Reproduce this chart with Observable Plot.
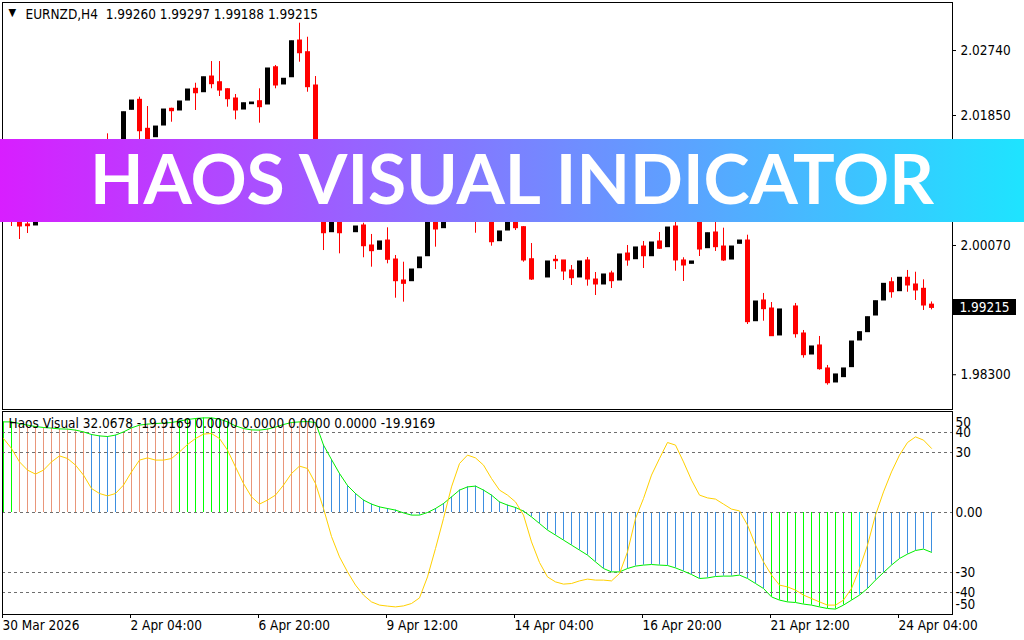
<!DOCTYPE html>
<html><head><meta charset="utf-8">
<script src="https://cdn.jsdelivr.net/npm/d3@7"></script>
<script src="https://cdn.jsdelivr.net/npm/@observablehq/plot@0.6"></script>
<style>
html,body{margin:0;padding:0;background:#fff;}
#wrap{position:relative;width:1024px;height:640px;overflow:hidden;}
#wrap > svg, #wrap > div{position:absolute;left:0;}
</style></head><body><div id="wrap"></div><script>
// ---------- data ----------
const symbol = "EURNZD,H4";
const quote = [1.99260, 1.99297, 1.99188, 1.99215];
const indicatorName = "Haos Visual";
const indicatorValues = [32.0678, -19.9169, 0.0000, 0.0000, 0.0000, 0.0000, -19.9169];
const bannerTitle = "HAOS VISUAL INDICATOR";

const opens = [2.00618,2.00522,2.00494,2.00358,2.00344,2.00494,2.00686,2.00850,2.00755,2.00960,
2.01124,2.01015,2.00919,2.01234,2.01206,2.01371,2.01928,2.02065,2.01668,2.01553,
2.01713,2.01942,2.01919,2.02055,2.02216,2.02169,2.02384,2.02306,2.02210,2.02083,
2.01932,2.02005,2.02046,2.02001,2.02511,2.02275,2.02374,2.02877,2.02717,2.02261,
2.00686,2.00252,2.00522,null,2.00252,2.00344,2.00070,2.00011,2.00138,1.99878,
1.99591,1.99581,1.99759,1.99923,2.00618,2.00307,2.00618,2.00823,2.00933,2.00755,
2.00549,2.00741,2.00129,2.00275,2.00481,2.00321,1.99882,null,1.99632,1.99874,
1.99865,1.99728,1.99632,1.99865,1.99604,1.99536,1.99687,1.99591,1.99960,1.99882,
2.00056,1.99923,2.00125,2.00047,2.00330,1.99865,1.99819,2.00481,2.00033,2.00248,
2.00056,1.99878,2.00093,2.00138,1.99033,1.99317,1.99207,1.98838,null,1.99235,
1.98865,1.98577,1.98701,1.98386,1.98194,1.98267,1.98404,1.98769,1.98883,1.99111,
1.99317,1.99567,1.99444,1.99628,1.99536,1.99477,1.99260];
const highs = [2.00686,2.00577,2.00549,2.00494,2.00522,2.00741,2.00905,2.00892,2.01015,2.01165,
2.01206,2.01097,2.01234,2.01599,2.01494,2.01895,2.02055,2.02101,2.01973,2.01699,
2.01932,2.01950,2.02042,2.02206,2.02292,2.02374,2.02589,2.02589,2.02216,2.02138,
2.02018,2.02028,2.02216,2.02494,2.02535,2.02353,2.02867,2.03114,2.02922,2.02384,
2.00755,2.00618,2.00577,null,2.00330,2.00375,2.00221,2.00125,2.00312,1.99933,
1.99841,1.99741,1.99906,2.00755,2.00686,2.00686,2.00892,2.01028,2.00987,2.00823,
2.00796,2.00796,2.00262,2.00549,2.00522,2.00330,2.00097,null,1.99851,1.99933,
1.99865,1.99796,1.99851,1.99906,1.99700,1.99673,1.99718,1.99947,2.00070,2.00043,
2.00125,2.00111,2.00248,2.00316,2.00481,1.99902,1.99851,2.00549,2.00238,2.00481,
2.00307,2.00056,2.00138,2.00211,1.99303,1.99413,1.99289,1.99194,null,1.99276,
1.98906,1.98687,1.98824,1.98427,1.98304,1.98386,1.98755,1.98883,1.99088,1.99307,
1.99545,1.99628,1.99628,1.99728,1.99704,1.99600,1.99297];
const lows = [2.00440,2.00330,2.00152,2.00234,2.00344,2.00467,2.00645,2.00700,2.00727,2.00905,
2.00960,2.00823,2.00878,2.01124,2.01152,2.01343,2.01928,2.01508,2.01371,2.01553,
2.01713,2.01758,2.01919,2.02055,2.01919,2.02169,2.02216,2.02110,2.01964,2.01791,
2.01932,2.02005,2.01745,2.02001,2.02216,2.02275,2.02374,2.02580,2.02169,2.00618,
2.00001,2.00252,1.99956,null,2.00252,1.99902,1.99773,2.00011,1.99819,1.99348,
1.99294,1.99581,1.99759,1.99923,2.00047,2.00307,2.00549,2.00755,2.00686,2.00238,
2.00481,2.00060,2.00129,2.00275,2.00275,1.99841,1.99591,null,1.99632,1.99741,
1.99591,1.99522,1.99632,1.99513,1.99385,1.99536,1.99481,1.99591,1.99786,1.99882,
1.99755,1.99923,2.00015,2.00047,1.99718,1.99577,1.99819,1.99919,2.00033,1.99988,
1.99851,1.99878,2.00093,1.98988,1.99033,1.99033,1.98828,1.98838,null,1.98801,
1.98527,1.98577,1.98362,1.98157,1.98194,1.98267,1.98404,1.98769,1.98883,1.99111,
1.99317,1.99348,1.99444,1.99430,1.99317,1.99180,1.99188];
const closes = [2.00522,2.00440,2.00330,2.00334,2.00494,2.00686,2.00850,2.00755,2.00960,2.01124,
2.01015,2.00919,2.01165,2.01206,2.01439,2.01895,2.02055,2.01635,2.01439,2.01699,
2.01932,2.01909,2.02042,2.02206,2.02155,2.02374,2.02279,2.02192,2.02073,2.01919,
2.02018,2.02028,2.01964,2.02494,2.02261,2.02353,2.02867,2.02703,2.02238,2.00686,
2.00238,2.00549,2.00238,null,2.00330,2.00060,1.99992,2.00125,1.99874,1.99581,
1.99545,1.99741,1.99906,2.00686,2.00289,2.00618,2.00823,2.00960,2.00755,2.00549,
2.00755,2.00115,2.00262,2.00481,2.00307,1.99865,1.99604,null,1.99851,1.99855,
1.99714,1.99622,1.99851,1.99604,1.99536,1.99673,1.99581,1.99947,1.99865,2.00043,
1.99923,2.00111,2.00025,2.00316,1.99865,1.99796,1.99851,2.00015,2.00238,2.00047,
1.99865,2.00056,2.00138,1.99020,1.99303,1.99198,1.98828,1.99194,null,1.98855,
1.98568,1.98687,1.98376,1.98184,1.98304,1.98386,1.98755,1.98883,1.99088,1.99307,
1.99545,1.99430,1.99628,1.99522,1.99454,1.99248,1.99215];

// indicator: main histogram / line, signal line, histogram state per bar
const haosMain = [45.3,45.3,44.5,43.7,43,42.5,42.2,41.8,41.7,41.2,
40.3,39,38.3,38,38.7,40.3,42.3,43.7,44.2,44.5,
44.7,45,45.7,46.5,47,47.3,47.3,46.7,45.3,43.3,
42,41.3,41.2,41.7,42.7,44,45,45.3,45.5,45,
33.7,26.5,19.5,13.5,9.5,6.2,4.2,2.8,2,1.2,
-0.2,-1.3,-1.3,0,2,4.5,7.8,11.2,12.8,13.2,
11.2,8.7,5.3,3.7,2.5,0.7,-2.2,-5.5,-8.8,-11.3,
-13.8,-16.3,-18.8,-21.3,-24.7,-28,-29.7,-29.7,-28,-26.8,
-26.3,-26,-26.3,-26.5,-27.7,-29.3,-31,-33,-32.7,-32,
-31.8,-31.8,-31.3,-33,-35.5,-38,-42.2,-43.8,-44.7,-45,
-45.8,-46.3,-47.2,-48,-48.3,-46.3,-43.8,-41.3,-38,-33.8,
-30,-26.3,-23,-20.8,-19,-18.3,-19.9169];
const haosSignal = [37,32,25.3,21.2,19.2,21.2,25.3,28.3,27,23.7,
18.7,12,9.5,8.3,9.5,13.7,20.3,26.2,27.3,26.2,
26.2,27,30.3,34,37,39.2,39.5,37,31.2,22.8,
14.5,7.8,4.2,6.2,8.7,13.7,19.5,23.2,22,14.5,
2,-12,-22.2,-29.7,-36.3,-41.3,-44.7,-46.3,-46.8,-47.2,
-46.7,-45.5,-42.7,-32.2,-18,-3,12.8,24.5,28.7,27.3,
23.7,17,11.2,8.7,5.3,-1.3,-14.7,-25,-32.2,-34.7,
-35.8,-35.5,-34.2,-33.3,-33.8,-33.8,-34.2,-30.5,-19.7,-3,
7,18.7,27,35,33.7,25.3,16.2,8.7,7.3,6.7,
4.2,1.7,0.8,-6.3,-16.3,-24.7,-31.3,-36.3,-37.2,-38.8,
-41.3,-43,-44.7,-46.3,-46.3,-43.8,-38,-28,-16.3,-1.3,
10.3,20.3,28.7,35,37.8,36.2,32.0678];
const haosState = ["up","up","weak","weak","weak","weak","weak","weak","weak","weak",
"weak","down","down","down","down","weak","weak","weak","weak","weak",
"weak","weak","up","up","up","up","up","up","up","weak",
"weak","weak","weak","weak","weak","weak","weak","weak","weak","weak",
"down","down","down","down","down","down","down","down","down","down",
"down","down","down","down","down","down","down","down","down","down",
"down","down","down","down","down","down","down","down","down","down",
"down","down","down","down","down","down","down","down","down","down",
"down","down","down","down","down","down","down","down","down","down",
"down","down","down","down","down","down","up","up","up","up",
"up","up","up","up","up","up","up","turn","down","down",
"down","down","down","down","down","down","down"];

// visible price-scale labels (the others are covered in the original)
const priceTicks = [2.02740, 2.01850, 2.00070, 1.98300];
const levelValues = [40, 30, 0, -30, -40];
const timeBars = [0, 16, 32, 48, 64, 80, 96, 112];
const timeLabels = ["30 Mar 2026", "2 Apr 04:00", "6 Apr 20:00", "9 Apr 12:00",
  "14 Apr 04:00", "16 Apr 20:00", "21 Apr 12:00", "24 Apr 04:00"];

// ---------- build ----------
const FONT = "'DejaVu Sans Condensed', 'DejaVu Sans', sans-serif";
const FS = "13.5px";
const wrap = document.getElementById("wrap");

const candles = opens.map((o, i) => ({i, o, h: highs[i], l: lows[i], c: closes[i]}))
  .filter(d => d.o != null);
const candleColor = d => d.c >= d.o ? "#000000" : "#ff0000";
const xScale = {domain: [0, opens.length - 1], range: [3, 3 + 8 * (opens.length - 1)], axis: null};

const main = Plot.plot({
  width: 1024, height: 410,
  marginTop: 2, marginBottom: 1, marginLeft: 2, marginRight: 72,
  x: xScale,
  y: {domain: [1.97824, 2.03384], range: [409, 3], axis: null},
  style: {fontFamily: FONT, fontSize: FS, color: "#000", background: "transparent", overflow: "visible"},
  marks: [
    Plot.ruleX(candles, {x: "i", y1: "l", y2: "h", stroke: candleColor, strokeWidth: 1}),
    Plot.rect(candles, {x1: d => d.i - 0.3125, x2: d => d.i + 0.3125, y1: "o", y2: "c",
      fill: candleColor, insetTop: -0.5, insetBottom: -0.5, dx: 0.5}),
    Plot.frame({stroke: "#000"}),
    Plot.axisY({anchor: "right", ticks: priceTicks, tickFormat: d => d.toFixed(5),
      tickSize: 3, tickPadding: 5, fontSize: FS, label: null}),
    Plot.text(["\u25BC"], {frameAnchor: "top-left", dx: 6, dy: 6, fontSize: 11, lineAnchor: "top", textAnchor: "start"}),
    Plot.text([symbol + "  " + quote.map(d => d.toFixed(5)).join(" ")],
      {frameAnchor: "top-left", dx: 23, dy: 7, lineAnchor: "top", textAnchor: "start", fontSize: FS})
  ]
});
main.style.top = "0px";
wrap.appendChild(main);

const ind = haosMain.map((v, i) => ({i, v, s: haosSignal[i], state: haosState[i]}));
const sub = Plot.plot({
  width: 1024, height: 230,
  marginTop: 1, marginBottom: 26, marginLeft: 2, marginRight: 72,
  x: xScale,
  y: {domain: [-50, 50], range: [202, 2], axis: null},
  color: {domain: ["up", "weak", "down", "turn"], range: ["#00ff00", "#e9967a", "#3d8fe0", "#00e5ff"]},
  style: {fontFamily: FONT, fontSize: FS, color: "#000", background: "transparent", overflow: "visible"},
  marks: [
    Plot.ruleX(ind, {x: "i", y1: 0, y2: "v", stroke: "state", strokeWidth: 1}),
    Plot.ruleY(levelValues, {stroke: "#6e6e6e", strokeDasharray: "3,3"}),
    Plot.line(ind, {x: "i", y: "v", stroke: "#00ee00", strokeWidth: 1}),
    Plot.line(ind, {x: "i", y: "s", stroke: "#ffd000", strokeWidth: 1}),
    Plot.frame({stroke: "#000"}),
    Plot.axisY({anchor: "right", ticks: levelValues, tickFormat: d => d === 0 ? "0.00" : String(d),
      tickSize: 0, tickPadding: 3, fontSize: FS, label: null}),
    Plot.axisY({anchor: "right", ticks: [50], tickFormat: String, tickSize: 0, tickPadding: 3, dy: 10, fontSize: FS, label: null}),
    Plot.axisY({anchor: "right", ticks: [-50], tickFormat: String, tickSize: 0, tickPadding: 3, dy: -8, fontSize: FS, label: null}),
    Plot.axisX({anchor: "bottom", ticks: timeBars, tickFormat: d => timeLabels[timeBars.indexOf(d)],
      tickSize: 4, tickPadding: 2, textAnchor: "start", dx: -1, fontSize: FS, label: null}),
    Plot.text([indicatorName + " " + indicatorValues.map(d => d.toFixed(4)).join(" ")],
      {frameAnchor: "top-left", dx: 6, dy: 7, lineAnchor: "top", textAnchor: "start", fontSize: FS})
  ]
});
sub.style.top = "410px";
wrap.appendChild(sub);

// current price marker on the price scale
const yMain = main.scale("y");
const lastClose = closes[closes.length - 1];
const tag = document.createElement("div");
tag.textContent = lastClose.toFixed(5);
Object.assign(tag.style, {top: (yMain.apply(lastClose) - 8) + "px", left: "953px", width: "63px", height: "16px",
  background: "#000", color: "#fff", font: FS + " " + FONT, lineHeight: "16px", textAlign: "center"});
wrap.appendChild(tag);

// banner overlay
const banner = d3.create("svg").attr("width", 1024).attr("height", 83)
  .style("top", "138.5px").style("overflow", "visible");
const grad = banner.append("defs").append("linearGradient").attr("id", "bg")
  .attr("x1", "0").attr("x2", "1").attr("y1", "0").attr("y2", "0");
grad.append("stop").attr("offset", "0").attr("stop-color", "#d81eff");
grad.append("stop").attr("offset", "1").attr("stop-color", "#1ee4ff");
banner.append("rect").attr("width", 1024).attr("height", 83).attr("fill", "url(#bg)");
banner.append("text").text(bannerTitle)
  .attr("x", 90).attr("y", 65).attr("textLength", 844).attr("lengthAdjust", "spacingAndGlyphs")
  .attr("fill", "#fff").style("font-family", "Lato, 'Open Sans', sans-serif")
  .style("font-weight", 700).style("font-size", "68px");
wrap.appendChild(banner.node());
</script></body></html>
